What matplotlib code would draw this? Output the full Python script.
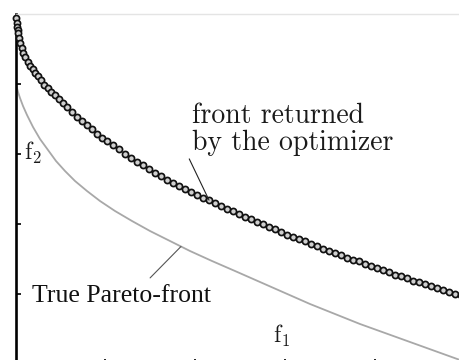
import numpy as np
import matplotlib
matplotlib.use('Agg')
import matplotlib.pyplot as plt

plt.rcParams['mathtext.fontset'] = 'cm'

# front returned by the optimizer (one marker per solution)
opt_f1 = np.array([
    0, 0.005, 0.01, 0.015, 0.02, 0.03, 0.04, 0.055, 0.07, 0.09, 0.115, 0.14,
    0.165, 0.19, 0.22, 0.25, 0.285, 0.32, 0.355, 0.39, 0.43, 0.47, 0.51, 0.555,
    0.61, 0.66, 0.71, 0.76, 0.81, 0.86, 0.91, 0.97, 1.03, 1.09, 1.15, 1.21,
    1.27, 1.33, 1.39, 1.45, 1.51, 1.57, 1.63, 1.69, 1.75, 1.81, 1.87, 1.93,
    1.99, 2.05, 2.11, 2.17, 2.23, 2.29, 2.35, 2.41, 2.47, 2.53, 2.59, 2.65,
    2.71, 2.77, 2.83, 2.89, 2.95, 3.01, 3.07, 3.13, 3.19, 3.25, 3.31, 3.37,
    3.43, 3.49, 3.55, 3.61, 3.67, 3.73, 3.79, 3.85, 3.91, 3.97, 4.03, 4.09,
    4.15, 4.21, 4.27, 4.33, 4.39, 4.45])
opt_f2 = np.array([
    3.46, 3.415, 3.37, 3.34, 3.31, 3.26, 3.21, 3.16, 3.115, 3.07, 3.02, 2.98,
    2.947, 2.913, 2.88, 2.84, 2.795, 2.76, 2.725, 2.69, 2.65, 2.61, 2.57, 2.525,
    2.47, 2.428, 2.387, 2.345, 2.303, 2.263, 2.23, 2.19, 2.147, 2.104, 2.061,
    2.023, 1.989, 1.953, 1.91, 1.876, 1.841, 1.813, 1.783, 1.751, 1.724, 1.69,
    1.664, 1.639, 1.607, 1.577, 1.551, 1.526, 1.50, 1.474, 1.449, 1.423, 1.397,
    1.371, 1.346, 1.32, 1.294, 1.269, 1.251, 1.227, 1.203, 1.176, 1.15, 1.133,
    1.109, 1.089, 1.064, 1.044, 1.026, 1.00, 0.983, 0.959, 0.939, 0.917, 0.894,
    0.877, 0.86, 0.834, 0.816, 0.799, 0.781, 0.761, 0.737, 0.72, 0.703, 0.686])

# true Pareto front
true_f1 = np.array([
    0, 1, 2, 4, 7, 11, 17, 24, 32, 40, 49, 59, 71, 84, 99, 116, 134, 154,
    174, 196, 219, 244, 269, 294, 319, 344, 369, 394, 419, 444]) / 100
true_f2 = np.array([
    280, 276, 272, 266, 258, 249, 237, 225, 214, 203, 193, 183, 173, 163, 153,
    143, 133, 123, 113, 103, 93, 82, 71, 60, 50, 40, 31, 22, 13, 4]) / 100

x_ticks = [0.89, 1.79, 2.69, 3.59, 4.49]
y_ticks = [0.7, 1.4, 2.1, 2.8]

W, H = 459, 360
fig = plt.figure(figsize=(W / 100, H / 100), dpi=100)
ax = fig.add_axes([16 / W, -4 / H, 450 / W, 350 / H])

ax.plot(true_f1, true_f2, color='#a8a8a8', lw=1.3, zorder=2)
ax.plot(opt_f1, opt_f2, ls='none', marker='o', ms=4.4, mfc='#cfcfcf',
        mec='#111111', mew=1.25, zorder=3, clip_on=False)

ax.set_xlim(0, 4.5)
ax.set_ylim(0, 3.5)
ax.set_xticks(x_ticks)
ax.set_yticks(y_ticks)
ax.set_xticklabels([])
ax.set_yticklabels([])
ax.tick_params(direction='in', length=3.5, width=1.2, color='black')

ax.spines['left'].set_linewidth(1.9)
ax.spines['left'].set_color('black')
ax.spines['bottom'].set_linewidth(1.9)
ax.spines['top'].set_color('#e4e4e4')
ax.spines['top'].set_linewidth(1.0)
ax.spines['right'].set_visible(False)

# labels pointing at the two fronts
k = int(np.argmin(np.abs(opt_f1 - 1.91)))
ax.annotate('', xy=(opt_f1[k], opt_f2[k]), xytext=(0.385, 0.586),
            textcoords='axes fraction',
            arrowprops=dict(arrowstyle='-', color='#222222', lw=0.8,
                            shrinkA=0, shrinkB=0))
tx = 1.65
ax.annotate('', xy=(tx, np.interp(tx, true_f1, true_f2)),
            xytext=(0.298, 0.246), textcoords='axes fraction',
            arrowprops=dict(arrowstyle='-', color='#555555', lw=0.8,
                            shrinkA=0, shrinkB=0))

ax.text(0.391, 0.746, 'front returned\nby the optimizer', transform=ax.transAxes,
        family='cmr10', fontsize=20, color='#1a1a1a', ha='left', va='top',
        linespacing=1.0)
ax.text(0.036, 0.177, 'True Pareto-front', transform=ax.transAxes,
        family='Liberation Serif', fontsize=18.5, color='#111111',
        ha='left', va='baseline')

ax.text(0.018, 0.583, r'$\mathrm{f}_2$', transform=ax.transAxes,
        fontsize=17, color='#1a1a1a', ha='left', va='baseline')
ax.text(0.571, 0.06, r'$\mathrm{f}_1$', transform=ax.transAxes,
        fontsize=17, color='#1a1a1a', ha='left', va='baseline')

fig.savefig('out.png', dpi=100)
